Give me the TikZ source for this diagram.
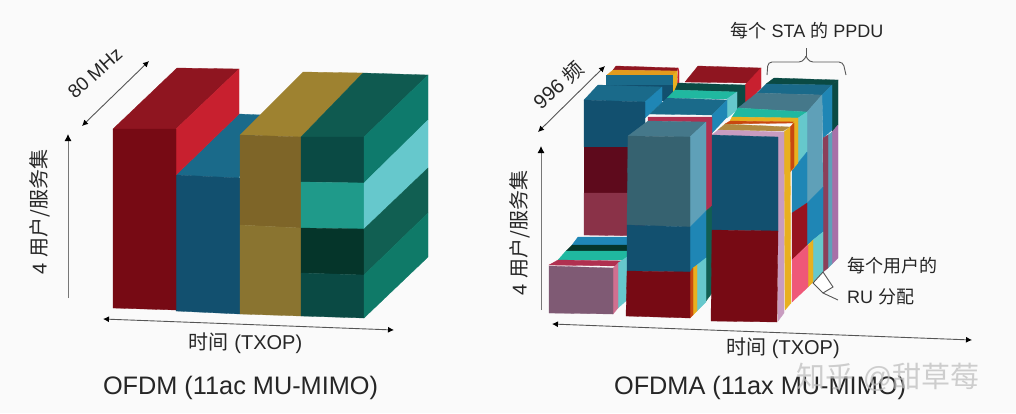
\documentclass[tikz,border=0pt]{standalone}
\usepackage{fontspec}
\setmainfont{Liberation Sans}
\newfontfamily\cjk{Noto Sans CJK SC}
\usetikzlibrary{arrows.meta}
\definecolor{redfront}{HTML}{770A14}
\definecolor{redtop}{HTML}{8F1520}
\definecolor{redside}{HTML}{C8202F}
\definecolor{bluefront}{HTML}{12506F}
\definecolor{bluetop}{HTML}{1A6A8A}
\definecolor{goldup}{HTML}{7E6528}
\definecolor{goldlow}{HTML}{8A7430}
\definecolor{goldtop}{HTML}{9E8230}
\definecolor{greendark}{HTML}{0A4A44}
\definecolor{greentop}{HTML}{0F5A50}
\definecolor{greenside}{HTML}{0E7A6C}
\definecolor{tealfront}{HTML}{1F9A8A}
\definecolor{tealside}{HTML}{66C8CC}
\definecolor{greendeep}{HTML}{05352A}
\definecolor{greensideb}{HTML}{115F52}
\definecolor{greensidec}{HTML}{0F7A68}
\definecolor{maroon}{HTML}{5E0A1C}
\definecolor{rosedim}{HTML}{8A3248}
\definecolor{mauve}{HTML}{7F5A74}
\definecolor{pinkside}{HTML}{D07090}
\definecolor{slate}{HTML}{366270}
\definecolor{slatetop}{HTML}{45788A}
\definecolor{slateside}{HTML}{5FA0B8}
\definecolor{brightblue}{HTML}{1F86B5}
\definecolor{goldbar}{HTML}{E8B020}
\definecolor{orangebar}{HTML}{C84810}
\definecolor{tealtop}{HTML}{20B8A0}
\definecolor{tanbar}{HTML}{B08A40}
\definecolor{lilac}{HTML}{C89CC0}
\definecolor{rosebar}{HTML}{EF5878}
\definecolor{mauveside}{HTML}{A870A8}
\definecolor{crimson}{HTML}{B03050}
\definecolor{inkline}{HTML}{555555}
\tikzset{
  face/.style={fill=#1,draw=#1,line width=.3pt},
  dimline/.style={{Latex[length=6pt,width=6pt,black]}-{Latex[length=6pt,width=6pt,black]},draw=inkline,line width=.9pt},
  upline/.style={-{Latex[length=7pt,width=7pt,black]},draw=inkline!80,line width=.9pt},
  lbl/.style={text=black!85,inner sep=0pt,font=\fontsize{18}{20}\selectfont},
  biglbl/.style={text=black!85,inner sep=0pt,font=\fontsize{20}{22}\selectfont},
  titlelbl/.style={text=black!85,inner sep=0pt,font=\fontsize{25.3}{28}\selectfont},
  guide/.style={draw=inkline,line width=.9pt},
}
\begin{document}
\begin{tikzpicture}[x=1pt,y=-1pt]
   \fill[white!98!black] (0,0) rectangle (1016,413);
   \useasboundingbox (0,0) rectangle (1016,413);

   % OFDM block
   \fill[face=bluetop] (176,175) -- (239,178) -- (262,115) -- (239,114) -- cycle;
   \fill[face=bluefront] (176,175) -- (240,178) -- (240,314) -- (176,311) -- cycle;
   \fill[face=redtop] (113,129) -- (176,129) -- (239,69) -- (177,68) -- cycle;
   \fill[face=redside] (176,129) -- (239,69) -- (239,114) -- (176,175) -- cycle;
   \fill[face=redfront] (113,129) -- (176,129) -- (176,310) -- (113,308) -- cycle;
   \fill[face=goldtop] (240,135) -- (301,137) -- (363,73) -- (303,72) -- cycle;
   \fill[face=goldup] (240,135) -- (301,137) -- (301,228) -- (240,225) -- cycle;
   \fill[face=goldlow] (240,225) -- (301,228) -- (301,316) -- (240,314) -- cycle;
   \fill[face=greentop] (301,137) -- (364,137) -- (428,75) -- (363,73) -- cycle;
   \fill[face=greendark] (301,137) -- (364,137) -- (364,183) -- (301,182) -- cycle;
   \fill[face=tealfront] (301,182) -- (364,183) -- (364,229) -- (301,228) -- cycle;
   \fill[face=greendeep] (301,228) -- (364,229) -- (364,275) -- (301,273) -- cycle;
   \fill[face=greendark] (301,273) -- (364,275) -- (364,318) -- (301,316) -- cycle;
   \fill[face=greenside] (364,137) -- (428,75) -- (428,120) -- (364,183) -- cycle;
   \fill[face=tealside] (364,183) -- (428,120) -- (428,168) -- (364,229) -- cycle;
   \fill[face=greensideb] (364,229) -- (428,168) -- (428,213) -- (364,275) -- cycle;
   \fill[face=greensidec] (364,275) -- (428,213) -- (428,257) -- (364,318) -- cycle;

   % OFDMA, back row
   \fill[face=redtop] (616,66) -- (678,68) -- (677,71) -- (613,70) -- cycle;
   \fill[face=redside] (678,68) -- (679,71) -- (679,92) -- (677,92) -- cycle;
   \fill[face=goldbar!80!orangebar] (613,70) -- (677,71) -- (676,75) -- (607,75) -- cycle;
   \fill[face=goldbar] (673,75) -- (677,71) -- (677,92) -- (673,96) -- cycle;
   \fill[face=bluetop] (606,75) -- (672,75) -- (672,100) -- (606,100) -- cycle;
   \fill[face=bluefront] (606,85) -- (672,85) -- (672,100) -- (606,100) -- cycle;
   \fill[face=bluetop] (584,100) -- (645,102) -- (662,87) -- (598,85) -- cycle;
   \fill[face=brightblue] (645,102) -- (662,87) -- (662,103) -- (645,118) -- cycle;
   \fill[face=bluefront] (584,100) -- (645,102) -- (645,147) -- (584,147) -- cycle;
   \fill[face=maroon] (584,147) -- (645,147) -- (645,193) -- (584,193) -- cycle;
   \fill[face=rosedim] (584,193) -- (645,193) -- (645,236) -- (584,235) -- cycle;

   % OFDMA, dark red and teal middle block
   \fill[face=redtop] (685,82) -- (750,83) -- (761,68) -- (698,66) -- cycle;
   \fill[face=redside] (745,85) -- (761,68) -- (761,88) -- (745,105) -- cycle;
   \fill[face=greendark] (678,83) -- (745,85) -- (745,105) -- (737,110) -- (737,92) -- (675,90) -- cycle;
   \fill[face=tealtop] (667,98) -- (727,99) -- (737,92) -- (675,90) -- cycle;
   \fill[face=tealside] (727,99) -- (737,92) -- (737,110) -- (727,118) -- cycle;
   \fill[face=bluetop] (650,114) -- (712,115) -- (727,100) -- (667,98) -- cycle;
   \fill[face=brightblue] (712,115) -- (727,100) -- (727,117) -- (712,133) -- cycle;

   % OFDMA, low block
   \fill[face=brightblue] (578,237) -- (630,237) -- (630,245) -- (572,245) -- cycle;
   \fill[face=greendeep] (572,245) -- (630,245) -- (630,251) -- (566,251) -- cycle;
   \fill[face=tealtop] (566,251) -- (630,251) -- (625,260) -- (558,260) -- cycle;
   \fill[face=crimson] (558,260) -- (625,261) -- (618,266) -- (549,265) -- cycle;
   \fill[face=tealside] (618,263) -- (627,257) -- (627,300) -- (618,308) -- cycle;
   \fill[face=pinkside] (613,268) -- (618,263) -- (618,308) -- (613,314) -- cycle;
   \fill[face=mauve] (549,266) -- (613,268) -- (613,314) -- (549,313) -- cycle;

   % OFDMA, slate column
   \fill[face=crimson] (648,117) -- (712,117) -- (712,206) -- (706,211) -- (706,122) -- (648,121) -- cycle;
   \fill[face=greensideb] (706,211) -- (712,206) -- (712,293) -- (706,301) -- cycle;
   \fill[face=slatetop] (628,136) -- (690,137) -- (706,122) -- (648,121) -- cycle;
   \fill[face=slateside] (690,137) -- (706,122) -- (706,211) -- (690,227) -- cycle;
   \fill[face=brightblue] (690,227) -- (706,211) -- (706,258) -- (690,272) -- cycle;
   \fill[face=tealside] (697,265) -- (706,258) -- (706,302) -- (697,311) -- cycle;
   \fill[face=goldbar] (693,268) -- (697,265) -- (697,311) -- (693,315) -- cycle;
   \fill[face=orangebar] (690,272) -- (693,268) -- (693,315) -- (690,318) -- cycle;
   \fill[face=slate] (628,136) -- (690,137) -- (690,227) -- (627,225) -- cycle;
   \fill[face=bluefront] (627,225) -- (690,227) -- (690,272) -- (627,271) -- cycle;
   \fill[face=redfront] (627,271) -- (690,272) -- (690,318) -- (626,316) -- cycle;

   % OFDMA, right column seen from the side
   \fill[face=greendark] (774,78) -- (838,80) -- (832,85) -- (766,84) -- cycle;
   \fill[face=bluetop] (766,84) -- (832,85) -- (822,95) -- (757,93) -- cycle;
   \fill[face=slatetop] (757,93) -- (822,95) -- (807,112) -- (738,108) -- cycle;
   \fill[face=greendark] (832,85) -- (838,80) -- (838,125) -- (832,132) -- cycle;
   \fill[face=brightblue] (822,95) -- (832,85) -- (832,130) -- (823,138) -- cycle;
   \fill[face=mauveside] (832,132) -- (838,125) -- (838,258) -- (832,264) -- cycle;
   \fill[face=slateside] (828,135) -- (832,132) -- (832,264) -- (828,268) -- cycle;
   \fill[face=crimson!70!slate] (823,138) -- (828,135) -- (828,268) -- (823,272) -- cycle;
   \fill[face=slateside] (807,112) -- (822,95) -- (823,187) -- (807,203) -- cycle;
   \fill[face=brightblue] (807,203) -- (823,187) -- (823,232) -- (807,245) -- cycle;
   \fill[face=tealside] (813,240) -- (823,232) -- (823,272) -- (813,282) -- cycle;
   \fill[face=goldbar] (808,245) -- (813,240) -- (813,282) -- (808,287) -- cycle;
   \fill[face=tealtop] (732,117) -- (798,118) -- (807,112) -- (738,108) -- cycle;
   \fill[face=goldbar] (730,121) -- (797,122) -- (798,118) -- (732,117) -- cycle;
   \fill[face=tealside] (798,118) -- (807,112) -- (807,152) -- (798,163) -- cycle;
   \fill[face=brightblue] (792,170) -- (798,163) -- (807,152) -- (807,203) -- (792,213) -- cycle;
   \fill[face=redfront!60!redside] (792,213) -- (807,203) -- (807,245) -- (792,260) -- cycle;
   \fill[face=rosebar] (792,260) -- (808,245) -- (808,287) -- (792,302) -- cycle;
   \fill[face=orangebar] (725,124) -- (793,123) -- (797,122) -- (730,121) -- cycle;
   \fill[face=goldbar] (795,120) -- (798,118) -- (798,163) -- (792,170) -- (792,125) -- cycle;
   \fill[face=orangebar] (790,127) -- (794,123) -- (794,167) -- (790,172) -- cycle;
   \fill[face=tanbar] (718,130) -- (783,131) -- (790,127) -- (725,124) -- cycle;
   \fill[face=goldbar] (784,132) -- (790,127) -- (791,303) -- (785,310) -- cycle;
   \fill[face=lilac] (712,135) -- (778,137) -- (784,132) -- (718,130) -- cycle;
   \fill[face=lilac] (778,137) -- (784,132) -- (784,313) -- (778,321) -- cycle;
   \fill[face=bluefront] (712,135) -- (778,137) -- (778,231) -- (712,230) -- cycle;
   \fill[face=redfront] (712,230) -- (778,231) -- (777,322) -- (711,321) -- cycle;

   % arrows and labels, OFDM side
   \coordinate (u1) at (68,298);
   \coordinate (u2) at (68,134);
   \coordinate (w1) at (82,126);
   \coordinate (w2) at (149,61);
   \coordinate (t1) at (103,319);
   \coordinate (t2) at (394,330);
   \draw[upline] (u1) -- (u2);
   \draw[dimline] (w1) -- (w2);
   \draw[dimline] (t1) -- (t2);
   \node[lbl,rotate=42,font=\fontsize{19}{22}\selectfont] (wlabel) at (95,73) {80 MHz};
   \node[biglbl,rotate=90] (ulabel) at (40,212) {4 {\cjk 用户/服务集}};
   \node[biglbl] (tlabel) at (245.5,343) {{\cjk 时间} (TXOP)};
   \node[titlelbl] (ofdm) at (240.5,388) {OFDM (11ac MU-MIMO)};

   % arrows and labels, OFDMA side
   \coordinate (uu1) at (541,310);
   \coordinate (uu2) at (541,146);
   \coordinate (ww1) at (538,132);
   \coordinate (ww2) at (605,66);
   \coordinate (tt1) at (552,324);
   \coordinate (tt2) at (972,340);
   \draw[upline] (uu1) -- (uu2);
   \draw[dimline] (ww1) -- (ww2);
   \draw[dimline] (tt1) -- (tt2);
   \node[biglbl,rotate=42] (wwlabel) at (558,85) {996 {\cjk 频}};
   \node[biglbl,rotate=90] (uulabel) at (520,233) {4 {\cjk 用户/服务集}};
   \node[biglbl] (ttlabel) at (783,348) {{\cjk 时间} (TXOP)};
   \node[titlelbl] (ofdma) at (760,388) {OFDMA (11ax MU-MIMO)};
   \node[lbl] (sta) at (807,31) {{\cjk 每个} STA {\cjk 的} PPDU};
   \node[lbl,anchor=west] (rua) at (847,266) {\cjk 每个用户的};
   \node[lbl,anchor=west] (rub) at (847,297) {RU {\cjk 分配}};
   \node[text=black!25,opacity=.75,inner sep=0pt,font=\fontsize{29}{32}\selectfont] (mark) at (888,377) {{\cjk 知乎} @{\cjk 甜草莓}};

   % brace over the column and pointer to the strip
   \coordinate (b1) at (767,75);
   \coordinate (b2) at (806,48);
   \coordinate (b3) at (846,75);
   \draw[guide,rounded corners=4pt] (b1) -- (768,62) -- (803,62) -- (806,56);
   \draw[guide] (806,56) -- (b2);
   \draw[guide,rounded corners=4pt] (806,56) -- (809,62) -- (843,62) -- (b3);
   \coordinate (p1) at (813,283);
   \coordinate (p2) at (823,272);
   \coordinate (p3) at (833,287);
   \coordinate (p4) at (823,293);
   \coordinate (p5) at (838,300);
   \draw[guide,fill=white] (p1) -- (p2) -- (p3) -- (p4) -- cycle;
   \draw[guide] (p4) -- (p5);
\end{tikzpicture}
\end{document}
